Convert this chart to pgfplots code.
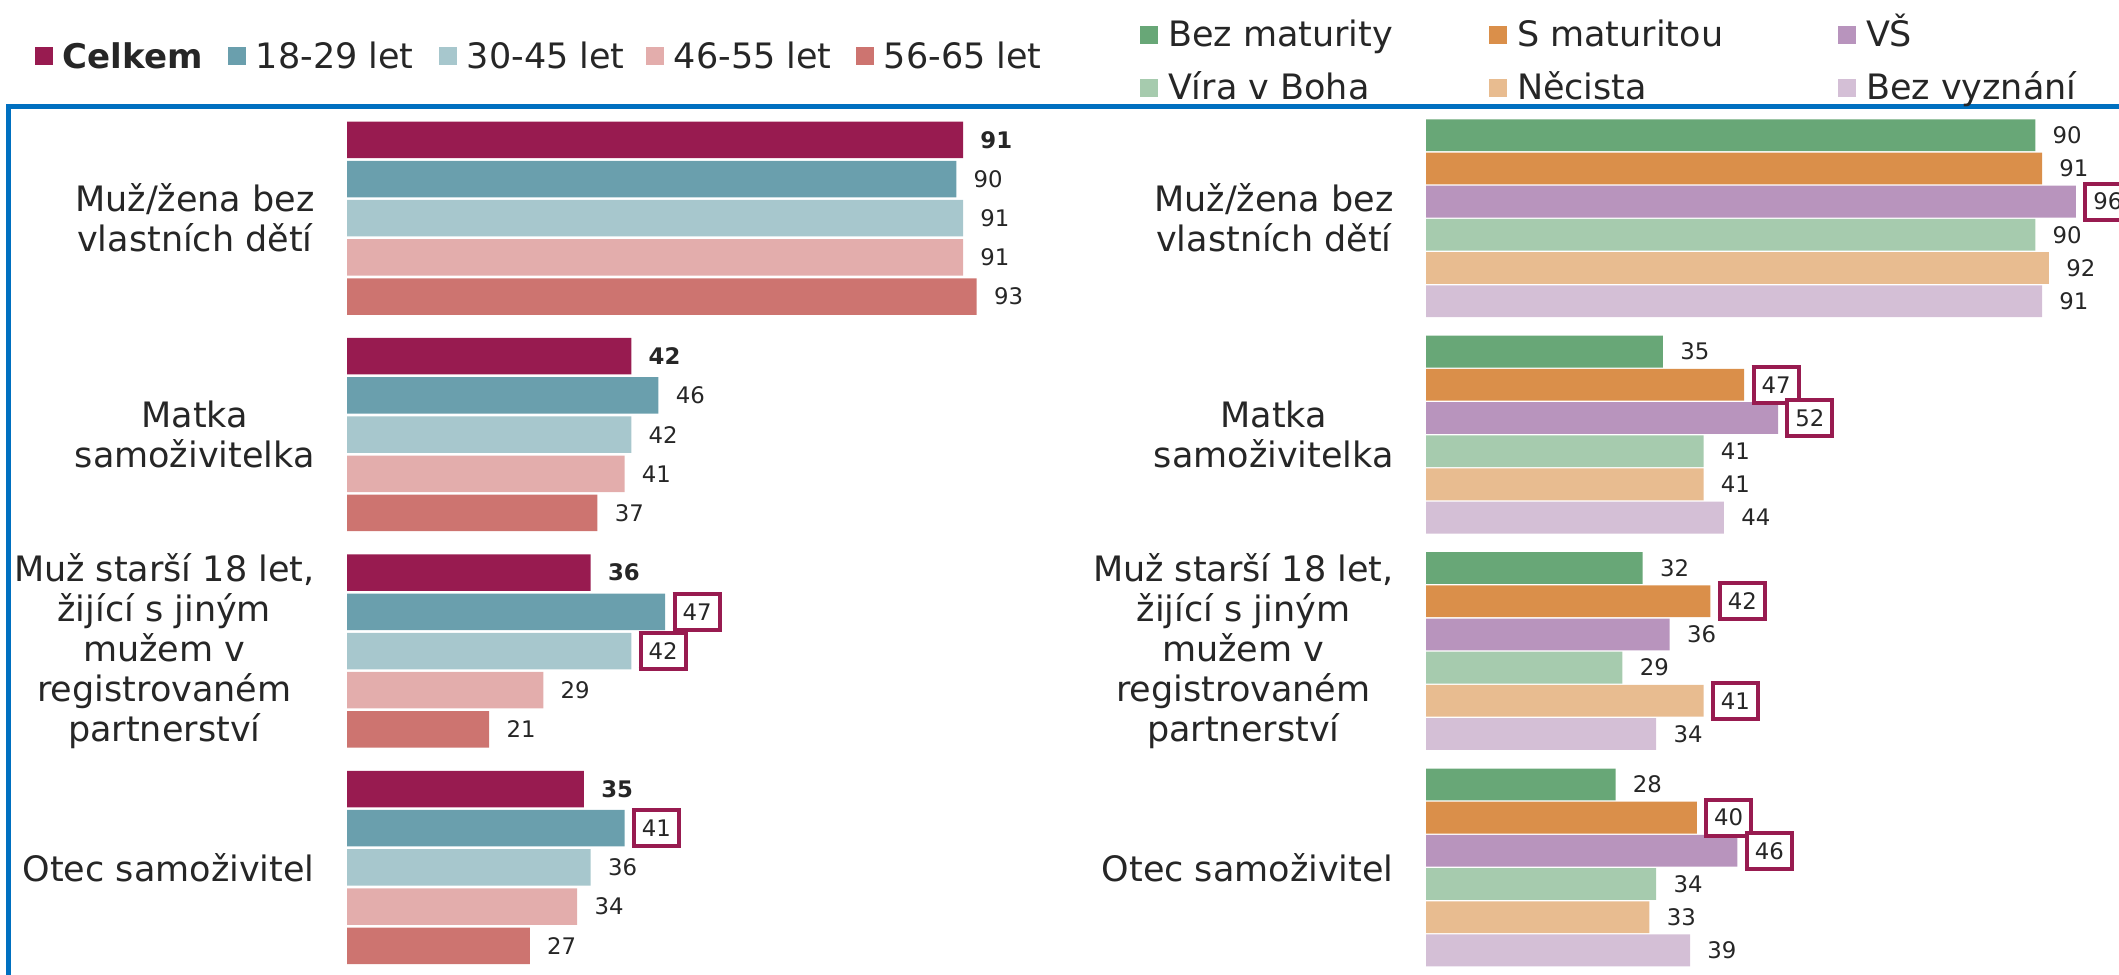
\documentclass[border=0pt]{standalone}
\usepackage{fontspec}
\setmainfont{DejaVu Sans}
\usepackage{pgfplots}
\pgfplotsset{compat=1.18}
\definecolor{celk}{HTML}{981B50}
\definecolor{ta}{HTML}{6A9FAD}
\definecolor{tb}{HTML}{A7C7CD}
\definecolor{tc}{HTML}{E3ADAC}
\definecolor{td}{HTML}{CD7470}
\definecolor{ra}{HTML}{68A777}
\definecolor{rb}{HTML}{DA8F4A}
\definecolor{rc}{HTML}{B894BD}
\definecolor{rd}{HTML}{A6CBAE}
\definecolor{re}{HTML}{E8BC90}
\definecolor{rf}{HTML}{D4BFD6}
\definecolor{textc}{HTML}{262626}
\definecolor{boxc}{HTML}{981B50}
\definecolor{framec}{HTML}{0070C0}
\protected\def\bx#1{\kern-5pt{\setlength\fboxrule{2pt}\setlength\fboxsep{3pt}\fcolorbox{boxc}{white}{\rule[-0.85pt]{0pt}{10pt}#1}}}
\newcommand\strutL{\rule{0pt}{17pt}}
\newcommand\strutR{\rule{0pt}{19pt}}
\pgfplotsset{
 panel/.style={
  xbar, scale only axis, width=338.5pt, height=432.8pt,
  xmin=0, xmax=100, ymin=-0.5, ymax=3.5, y dir=reverse,
  axis line style={draw=none}, tick style={draw=none}, major tick length=0pt,
  xtick=\empty, ytick={0,1,2,3},
  yticklabels={{Muž/žena bez\\vlastních dětí},{Matka\\samoživitelka},{Muž starší 18 let,\\žijící s jiným\\mužem v\\registrovaném\\partnerství},{Otec samoživitel}},
  yticklabel style={font=\fontsize{17.5}{20}\selectfont, text=textc, align=center, inner sep=0pt, xshift=-16pt},
  clip=false,
  point meta=explicit symbolic,
  nodes near coords={\pgfplotspointmeta},
  every node near coord/.append style={anchor=west, inner sep=0pt, xshift=8.5pt, font=\fontsize{11.4}{13}\selectfont, text=textc},
  legend style={draw=none, fill=none, inner sep=0pt, outer sep=0pt, font=\fontsize{17.5}{20}\selectfont, text=textc, nodes={inner sep=0pt, text depth=4pt},
   /tikz/every odd column/.append style={column sep=5pt},
   /tikz/every even column/.append style={column sep=0pt}},
  legend cell align=left,
 },
}
\begin{document}
\begin{tikzpicture}
\useasboundingbox (0,0) rectangle (1059.5pt,-487pt);
\draw[framec, line width=2.5pt, line join=miter] (4.25pt,-495pt) -- (4.25pt,-53.25pt) -- (1065pt,-53.25pt);
\begin{axis}[panel, at={(173.5pt,-55pt)}, anchor=north west, bar width=0.1687, legend columns=5,
  legend image code/.code={\fill[#1] (0pt,-5pt) rectangle (9pt,4pt);},
  legend style={at={(axis description cs:-0.4609,1.0635)}, anchor=west}]
\addplot[fill=celk, draw=none, bar shift=-0.3622, every node near coord/.append style={font=\fontsize{11.4}{13}\selectfont\bfseries}]
  coordinates {(91,0)[91] (42,1)[42] (36,2)[36] (35,3)[35]};
\addlegendentry{\makebox[82.5pt][l]{\strutL\fontsize{17}{20}\selectfont\textbf{Celkem}}}
\addplot[fill=ta, draw=none, bar shift=-0.1811]
  coordinates {(90,0)[90] (46,1)[46] (47,2)[\bx{47}] (41,3)[\bx{41}]};
\addlegendentry{\makebox[91.5pt][l]{\strutL 18-29 let}}
\addplot[fill=tb, draw=none, bar shift=0]
  coordinates {(91,0)[91] (42,1)[42] (42,2)[\bx{42}] (36,3)[36]};
\addlegendentry{\makebox[89.5pt][l]{\strutL 30-45 let}}
\addplot[fill=tc, draw=none, bar shift=0.1811]
  coordinates {(91,0)[91] (41,1)[41] (29,2)[29] (34,3)[34]};
\addlegendentry{\makebox[91pt][l]{\strutL 46-55 let}}
\addplot[fill=td, draw=none, bar shift=0.3622]
  coordinates {(93,0)[93] (37,1)[37] (21,2)[21] (27,3)[27]};
\addlegendentry{\strutL 56-65 let}
\end{axis}
\begin{axis}[panel, at={(713pt,-55pt)}, anchor=north west, bar width=0.147, legend columns=3,
  legend image code/.code={\fill[#1] (0pt,-6pt) rectangle (9pt,3pt);},
  legend style={at={(axis description cs:-0.42245,1.1167)}, anchor=north west, row sep=3.5pt}]
\addplot[fill=ra, draw=none, bar shift=-0.3835]
  coordinates {(90,0)[90] (35,1)[35] (32,2)[32] (28,3)[28]};
\addlegendentry{\makebox[160.5pt][l]{\strutR Bez maturity}}
\addplot[fill=rb, draw=none, bar shift=-0.2301]
  coordinates {(91,0)[91] (47,1)[\bx{47}] (42,2)[\bx{42}] (40,3)[\bx{40}]};
\addlegendentry{\makebox[160.5pt][l]{\strutR S maturitou}}
\addplot[fill=rc, draw=none, bar shift=-0.0767]
  coordinates {(96,0)[\bx{96}] (52,1)[\bx{52}] (36,2)[36] (46,3)[\bx{46}]};
\addlegendentry{\strutR VŠ}
\addplot[fill=rd, draw=none, bar shift=0.0767]
  coordinates {(90,0)[90] (41,1)[41] (29,2)[29] (34,3)[34]};
\addlegendentry{\makebox[160.5pt][l]{\strutR Víra v Boha}}
\addplot[fill=re, draw=none, bar shift=0.2301]
  coordinates {(92,0)[92] (41,1)[41] (41,2)[\bx{41}] (33,3)[33]};
\addlegendentry{\makebox[160.5pt][l]{\strutR Něcista}}
\addplot[fill=rf, draw=none, bar shift=0.3835]
  coordinates {(91,0)[91] (44,1)[44] (34,2)[34] (39,3)[39]};
\addlegendentry{\strutR Bez vyznání}
\end{axis}
\end{tikzpicture}
\end{document}
